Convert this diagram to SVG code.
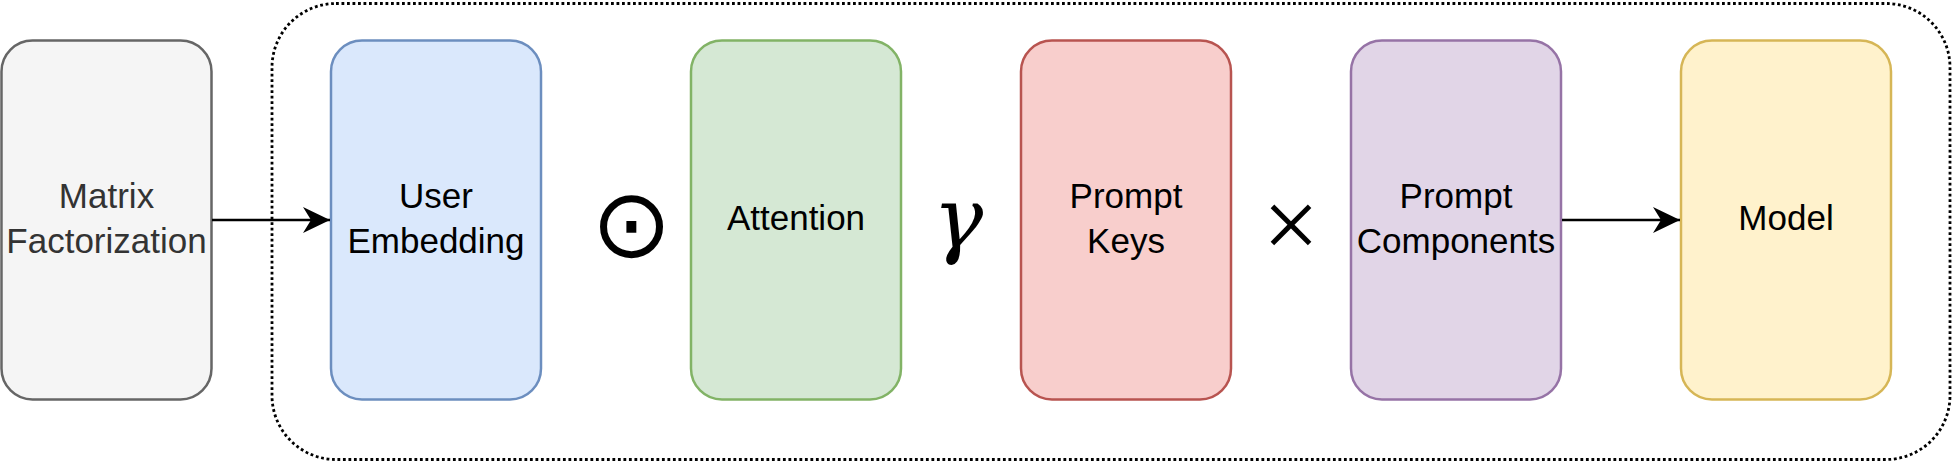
<svg xmlns="http://www.w3.org/2000/svg" width="1953" height="462" viewBox="0 0 1953 462">
<style>
.box{stroke-width:2.5}
.lbl{font-family:"Liberation Sans",Arial,sans-serif;font-size:35px;text-anchor:middle;fill:#000}
.conn{stroke:#000;stroke-width:2.5;fill:none}
.sym{font-family:"Liberation Serif","DejaVu Serif",serif;text-anchor:middle;fill:#000}
</style>
<defs>
<marker id="arr" markerUnits="userSpaceOnUse" viewBox="0 0 28 28" refX="27" refY="14" markerWidth="28" markerHeight="28" orient="auto">
<path d="M0,1 L27,14 L0,27 L8,14 Z" fill="#000"/>
</marker>
</defs>
<rect id="container" x="272" y="3.5" width="1678" height="456" rx="64" ry="64" fill="none" stroke="#000" stroke-width="2.8" stroke-dasharray="2.8 2.7"/>
<g id="mf">
<rect class="box" x="1.5" y="40.5" width="210" height="359" rx="31" ry="31" fill="#f5f5f5" stroke="#666666"/>
<text class="lbl" x="106.5" y="208" style="fill:#333333">Matrix</text>
<text class="lbl" x="106.5" y="253" style="fill:#333333">Factorization</text>
</g>
<g id="ue">
<rect class="box" x="331" y="40.5" width="210" height="359" rx="31" ry="31" fill="#dae8fc" stroke="#6c8ebf"/>
<text class="lbl" x="436" y="208">User</text>
<text class="lbl" x="436" y="253">Embedding</text>
</g>
<g id="odot">
<text x="631.5" y="257" font-family="DejaVu Sans,sans-serif" font-size="96" text-anchor="middle">⊙</text>
</g>
<g id="att">
<rect class="box" x="691" y="40.5" width="210" height="359" rx="31" ry="31" fill="#d5e8d4" stroke="#82b366"/>
<text class="lbl" x="796" y="230">Attention</text>
</g>
<g id="gamma">
<text x="958" y="247" font-family="DejaVu Serif,serif" font-size="84" font-style="italic" text-anchor="middle">γ</text>
</g>
<g id="pk">
<rect class="box" x="1021" y="40.5" width="210" height="359" rx="31" ry="31" fill="#f8cecc" stroke="#b85450"/>
<text class="lbl" x="1126" y="208">Prompt</text>
<text class="lbl" x="1126" y="253">Keys</text>
</g>
<g id="times">
<text class="sym" x="1291" y="258" font-size="100">×</text>
</g>
<g id="pc">
<rect class="box" x="1351" y="40.5" width="210" height="359" rx="31" ry="31" fill="#e1d5e7" stroke="#9673a6"/>
<text class="lbl" x="1456" y="208">Prompt</text>
<text class="lbl" x="1456" y="253">Components</text>
</g>
<g id="model">
<rect class="box" x="1681" y="40.5" width="210" height="359" rx="31" ry="31" fill="#fff2cc" stroke="#d6b656"/>
<text class="lbl" x="1786" y="230">Model</text>
</g>
<g id="connectors">
<path class="conn" d="M212,220 L330,220" marker-end="url(#arr)"/>
<path class="conn" d="M1562,220 L1680,220" marker-end="url(#arr)"/>
</g>
</svg>
